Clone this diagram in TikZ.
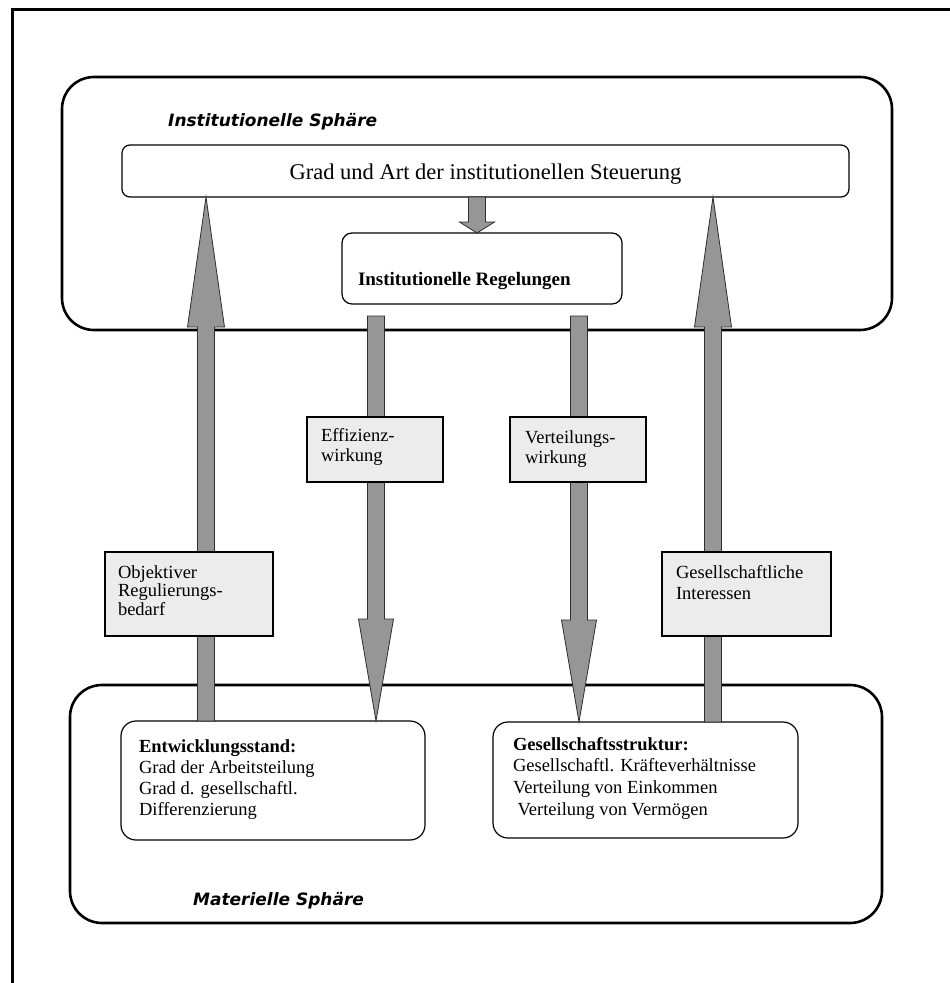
\documentclass[tikz,border=0pt]{standalone}
\usepackage{fontspec}
\setmainfont{Liberation Serif}
\newfontfamily\sphfont{DejaVu Sans}
\usetikzlibrary{calc}
\definecolor{arrfill}{RGB}{150,150,150}
\definecolor{arrline}{RGB}{45,45,45}
\definecolor{labfill}{RGB}{236,236,236}
\newcommand\txtlines[2]{\fontsize{18.5}{#1}\selectfont\begin{tabular}[t]{@{}l@{}}#2\end{tabular}}
% #1 start, #2 tip, #3 shaft half width, #4 head half width, #5 head length
\newcommand\blockarrow[5]{%
  \coordinate (hb) at ($(#2)!#5!(#1)$);
  \filldraw[blockarr] ($(#1)+(-#3,0)$) -- ($(hb)+(-#3,0)$) -- ($(hb)+(-#4,0)$) -- (#2)
    -- ($(hb)+(#4,0)$) -- ($(hb)+(#3,0)$) -- ($(#1)+(#3,0)$) -- cycle;}
\tikzset{
  sphere/.style={draw, line width=2.6pt, rounded corners=32pt, anchor=north west, inner sep=0pt, outer sep=0pt},
  ibox/.style={draw, line width=1.2pt, fill=white, anchor=north west, inner sep=0pt, outer sep=0pt},
  labbox/.style={draw, line width=1.3pt, fill=labfill, anchor=north west, inner sep=0pt, outer sep=0pt},
  txt/.style={anchor=base west, inner sep=0pt, outer sep=0pt},
  sph/.style={anchor=base west, inner sep=0pt, font=\sphfont\bfseries\itshape\fontsize{17}{20}\selectfont},
  blockarr/.style={fill=arrfill, draw=arrline, line width=0.8pt, line join=miter},
}
\begin{document}
\begin{tikzpicture}[x=1pt, y=-1pt]
\useasboundingbox (0,0) rectangle (950,983);
\fill[white] (0,0) rectangle (950,983);
% outer frame (left and top edges only)
\draw[line width=3pt] (12,990) -- (12,9) -- (955,9);

% spheres
\node[sphere, minimum width=830pt, minimum height=253pt] (topsph) at (62,77) {};
\node[sphere, minimum width=812pt, minimum height=238pt] (botsph) at (70,685) {};

% inner boxes
\node[ibox, rounded corners=8pt, minimum width=727pt, minimum height=52pt] (grad) at (122,145) {};
\node[ibox, rounded corners=10pt, minimum width=280pt, minimum height=71pt] (reg) at (342,233) {};
\node[ibox, rounded corners=15pt, minimum width=304pt, minimum height=119pt] (entw) at (121,721) {};
\node[ibox, rounded corners=15pt, minimum width=305pt, minimum height=116pt] (gesell) at (493,722) {};

% block arrows
\coordinate (u1s) at (206,0 |- entw.north);
\coordinate (u1t) at (206,0 |- grad.south);
\coordinate (u2s) at (713,0 |- gesell.north);
\coordinate (u2t) at (713,0 |- grad.south);
\coordinate (d1s) at ($(376,0 |- reg.south)+(0,12)$);
\coordinate (d1t) at (376,0 |- entw.north);
\coordinate (d2s) at ($(579,0 |- reg.south)+(0,12)$);
\coordinate (d2t) at (579,0 |- gesell.north);
\coordinate (m1s) at (477,0 |- grad.south);
\coordinate (m1t) at (477,0 |- reg.north);
\blockarrow{u1s}{u1t}{8.5}{18.5}{130pt}
\blockarrow{u2s}{u2t}{8.5}{18.5}{130pt}
\blockarrow{d1s}{d1t}{8.5}{17.5}{102pt}
\blockarrow{d2s}{d2t}{8.5}{17.5}{102pt}
\blockarrow{m1s}{m1t}{8.5}{17.5}{11pt}

% label boxes
\node[labbox, minimum width=136pt, minimum height=65pt] (eff) at (307,417) {};
\node[labbox, minimum width=136pt, minimum height=65pt] (vert) at (510,417) {};
\node[labbox, minimum width=168pt, minimum height=84pt] (obj) at (105,552) {};
\node[labbox, minimum width=169pt, minimum height=84pt] (ges) at (662,552) {};

% texts
\node[sph] (tsph) at (168,126) {Institutionelle Sphäre};
\node[sph] (bsph) at (193,905) {Materielle Sphäre};
\node[txt, anchor=base, font=\fontsize{22.5}{26}\selectfont] (gradt) at (485.5,179) {Grad und Art der institutionellen Steuerung};
\node[txt, font=\bfseries\fontsize{19}{22}\selectfont] (regt) at (358,285) {Institutionelle Regelungen};
\node[txt] (entwt) at (139,752) {\txtlines{21.3}{\textbf{Entwicklungsstand:}\\Grad der Arbeitsteilung\\Grad d. gesellschaftl.\\Differenzierung}};
\node[txt] (gesellt) at (513,750) {\txtlines{21.9}{\textbf{Gesellschaftsstruktur:}\\Gesellschaftl. Kräfteverhältnisse\\Verteilung von Einkommen\\\ Verteilung von Vermögen}};
\node[txt] (efft) at (321,441) {\txtlines{20.7}{Effizienz-\\wirkung}};
\node[txt] (vertt) at (525,443) {\txtlines{20.7}{Verteilungs-\\wirkung}};
\node[txt] (objt) at (118,578) {\txtlines{18.6}{Objektiver\\Regulierungs-\\bedarf}};
\node[txt] (gest) at (676,578) {\txtlines{21}{Gesellschaftliche\\Interessen}};
\end{tikzpicture}
\end{document}
